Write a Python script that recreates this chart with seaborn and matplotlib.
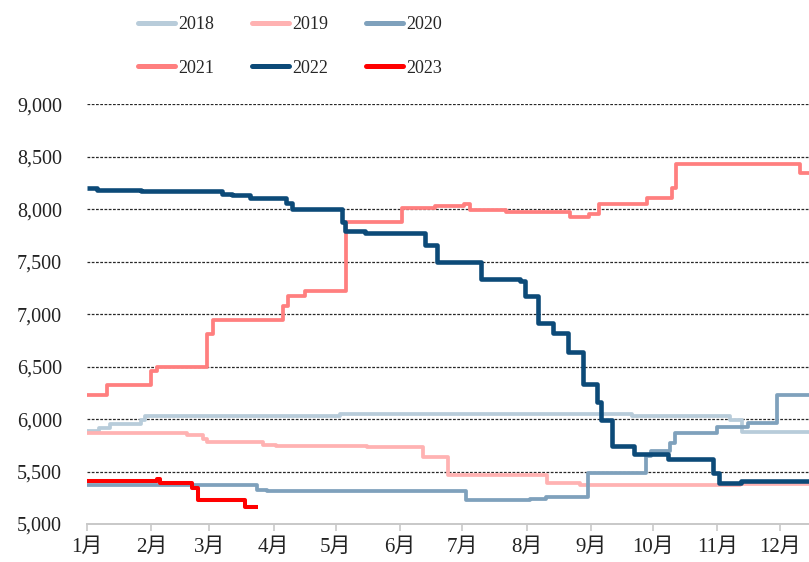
import numpy as np
import pandas as pd
import matplotlib
matplotlib.use("Agg")
import matplotlib.pyplot as plt
from matplotlib.lines import Line2D
import seaborn as sns

# ---------------- data (day of year, price) ----------------
years = ["2018", "2019", "2020", "2021", "2022", "2023"]

d2018 = [0, 6, 11, 26, 28, 122, 263, 310, 316, 350]
v2018 = [5890, 5920, 5955, 5990, 6030, 6045, 6030, 5990, 5880, 5880]

d2019 = [0, 48, 56, 58, 85, 88, 91, 135, 162, 174, 222, 238, 315, 350]
v2019 = [5865, 5850, 5815, 5780, 5755, 5750, 5745, 5730, 5636, 5468, 5388, 5372, 5382, 5382]

d2020 = [0, 82, 86.6, 183, 213.5, 221.5, 241.5, 269.7, 272, 281, 283.4, 304, 318.6, 333, 350]
v2020 = [5372, 5325, 5310, 5230, 5240, 5256, 5488, 5650, 5695, 5775, 5866, 5927, 5962, 6232, 6232]

d2021 = [0, 9.5, 31, 34, 58, 60.7, 94.5, 97, 105, 125, 152, 168, 182, 184.6, 202, 232.8, 242, 247, 270, 282, 284, 344, 350]
v2021 = [6230, 6322, 6460, 6500, 6810, 6945, 7075, 7178, 7218, 7880, 8012, 8030, 8055, 7990, 7975, 7925, 7960, 8055, 8110, 8200, 8430, 8345, 8345]

d2022 = [0, 5, 26, 65, 70, 78.5, 96, 99, 123, 124.5, 134, 163, 169, 190, 209, 211, 217.5, 224.7, 232, 239, 245.8, 248, 253, 264, 280, 301.7, 305, 315.5, 350]
v2022 = [8200, 8188, 8172, 8150, 8134, 8105, 8060, 8005, 7880, 7792, 7775, 7660, 7500, 7335, 7316, 7175, 6920, 6825, 6640, 6333, 6168, 5993, 5740, 5670, 5622, 5490, 5394, 5410, 5410]

d2023 = [0, 33.6, 35, 50.4, 53.6, 76, 82.3]
v2023 = [5410, 5430, 5388, 5345, 5229, 5160, 5160]

month_days = [0, 31, 59, 90, 120, 151, 181, 212, 243, 273, 304, 334]
month_labels = ["1月", "2月", "3月", "4月", "5月", "6月", "7月", "8月", "9月", "10月", "11月", "12月"]
yticks = [5000, 5500, 6000, 6500, 7000, 7500, 8000, 8500, 9000]

colors = {"2018": "#B8CCDA", "2019": "#FFB2B2", "2020": "#7FA1BC",
          "2021": "#FF7F7F", "2022": "#0C4A78", "2023": "#FF0000"}
widths = {"2018": 2.7, "2019": 2.7, "2020": 2.7, "2021": 2.7, "2022": 3.3, "2023": 2.9}

series = {"2018": (d2018, v2018), "2019": (d2019, v2019), "2020": (d2020, v2020),
          "2021": (d2021, v2021), "2022": (d2022, v2022), "2023": (d2023, v2023)}

# ---------------- figure ----------------
sns.set_theme(style="white")
plt.rcParams["font.family"] = ["Liberation Serif", "Noto Sans CJK SC"]

fig = plt.figure(figsize=(8.09, 5.62), dpi=100)
ax = fig.add_axes([0.10754, 0.06762, 0.89246, 0.74644])

for y in years:
    d, v = series[y]
    df = pd.DataFrame({"day": d, "price": v})
    sns.lineplot(data=df, x="day", y="price", ax=ax, color=colors[y],
                 linewidth=widths[y], drawstyle="steps-post", legend=False,
                 solid_capstyle="butt", zorder=3)

ax.set_xlim(0, 348.2)
ax.set_ylim(5000, 9000)
ax.set_xlabel("")
ax.set_ylabel("")

ax.set_yticks(yticks)
ax.set_yticklabels([f"{t:,}" for t in yticks], fontsize=14.5)
ax.set_xticks(month_days)
ax.set_xticklabels(month_labels, fontsize=15)

for t in yticks[1:]:
    ax.axhline(t, color="#282828", lw=0.9, ls=(0, (2.2, 1.2)), zorder=1)

for s in ["top", "right", "left"]:
    ax.spines[s].set_visible(False)
ax.spines["bottom"].set_color("#C8C8C8")
ax.spines["bottom"].set_linewidth(1.4)
ax.tick_params(axis="y", length=0, pad=18, colors="#222222")
ax.tick_params(axis="x", length=5, width=1.2, color="#C8C8C8", pad=5, labelcolor="#222222", direction="out", bottom=True)

order = ["2018", "2021", "2019", "2022", "2020", "2023"]
handles = [Line2D([0], [0], color=colors[y], lw=3.6) for y in order]
fig.legend(handles, order, ncol=3, loc="upper left", bbox_to_anchor=(0.1706, 0.971),
           frameon=False, fontsize=13, handlelength=2.05, handletextpad=0.17,
           columnspacing=2.1, labelspacing=1.46, borderpad=0, borderaxespad=0)

fig.savefig("out.png", dpi=100)
